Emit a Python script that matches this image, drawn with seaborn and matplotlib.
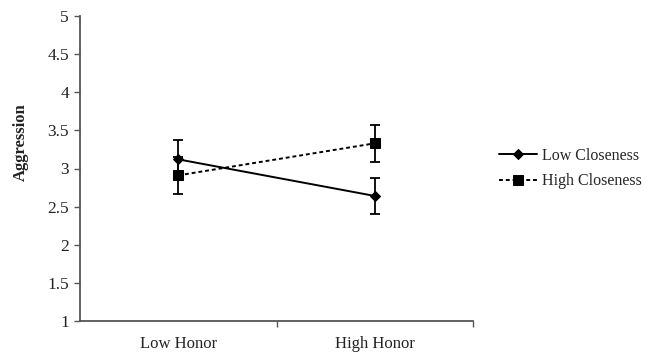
import matplotlib
matplotlib.use("Agg")
import matplotlib.pyplot as plt
import seaborn as sns
import pandas as pd

categories = ["Low Honor", "High Honor"]
low_closeness = [3.12, 2.64]
low_closeness_err = [0.25, 0.24]
high_closeness = [2.91, 3.33]
high_closeness_err = [0.24, 0.24]
series_names = ["Low Closeness", "High Closeness"]
yticks = [1, 1.5, 2, 2.5, 3, 3.5, 4, 4.5, 5]
ytick_labels = ["1", "1.5", "2", "2.5", "3", "3.5", "4", "4.5", "5"]

sns.set_style("white")
plt.rcParams['font.family'] = ['Liberation Serif', 'DejaVu Serif']

df = pd.DataFrame({
    "x": [0, 1, 0, 1],
    "y": low_closeness + high_closeness,
    "err": low_closeness_err + high_closeness_err,
    "series": [series_names[0]] * 2 + [series_names[1]] * 2,
})

fig = plt.figure(figsize=(6.57, 3.54), dpi=100)
ax = fig.add_axes([80 / 657, 1 - 321 / 354, (473 - 80) / 657, (321 - 16) / 354])

styles = {series_names[0]: dict(ls="-", marker="D", ms=5),
          series_names[1]: dict(ls=(0, (2, 1.5)), marker="s", ms=7)}
for name in series_names:
    sub = df[df["series"] == name]
    st = styles[name]
    ax.errorbar(sub["x"], sub["y"], yerr=sub["err"], fmt="none", ecolor="black",
                elinewidth=1.3, capsize=3.5, capthick=1.3, zorder=2)
    sns.lineplot(data=sub, x="x", y="y", ax=ax, color="black", linewidth=1.4,
                 linestyle=st["ls"], marker=st["marker"], markersize=st["ms"],
                 markeredgecolor="black", markerfacecolor="black", label=name, zorder=3)

ax.set_xlim(-0.5, 1.5)
ax.set_ylim(1, 5)
ax.set_yticks(yticks)
ax.set_yticklabels(ytick_labels, fontsize=12.5, color="#222222")
ax.set_xticks([0, 1])
ax.set_xticklabels(categories, fontsize=12, color="#222222")
ax.set_xticks([0.5, 1.5], minor=True)
ax.tick_params(axis="x", which="major", length=0, pad=11)
ax.tick_params(axis="x", which="minor", length=4, width=1, color="#555555", direction="out", bottom=True)
ax.tick_params(axis="y", length=4, width=1, color="#555555", direction="out", left=True, pad=4)
ax.set_xlabel("")
ax.set_ylabel("Aggression", fontsize=12, fontweight="bold", color="#222222")
ax.yaxis.set_label_coords(-0.13, 0.585)

for s in ["top", "right"]:
    ax.spines[s].set_visible(False)
for s in ["left", "bottom"]:
    ax.spines[s].set_color("#555555")
    ax.spines[s].set_linewidth(1.3)

leg = ax.legend(loc="center left", bbox_to_anchor=(1.03, 0.5), frameon=False,
                fontsize=11.5, handlelength=2.4, handletextpad=0.3, labelspacing=0.6)

fig.savefig("out.png", dpi=100)
